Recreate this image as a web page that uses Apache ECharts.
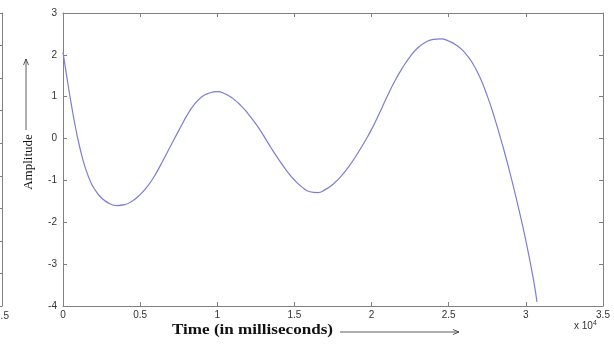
<!DOCTYPE html>
<html>
<head>
<meta charset="utf-8">
<script src="https://cdn.jsdelivr.net/npm/echarts@6/dist/echarts.min.js"></script>
<style>html,body{margin:0;padding:0;background:#fff}#c{width:614px;height:347px}</style>
</head>
<body>
<div id="c"></div>
<script>
// Time in milliseconds
const timeMs = [0, 250, 500, 750, 1000, 1250, 1500, 1750, 2000, 2500, 3000, 3500, 4000, 4500, 5000, 5500, 6000, 6500, 7000, 7500, 8000, 8500, 9000, 9500, 10000, 10500, 11000, 11500, 12000, 12500, 13000, 13500, 14000, 14500, 15000, 15500, 16000, 16500, 17000, 17500, 18000, 18500, 19000, 19500, 20000, 20500, 21000, 21500, 22000, 22500, 23000, 23500, 24000, 24500, 25000, 25500, 26000, 26500, 27000, 27500, 28000, 28500, 29000, 29500, 30000, 30500, 30720];
// Amplitude values
const amplitude = [2.06, 1.47, 0.90, 0.38, -0.07, -0.45, -0.76, -1.00, -1.18, -1.42, -1.55, -1.60, -1.58, -1.49, -1.34, -1.13, -0.85, -0.51, -0.16, 0.19, 0.53, 0.81, 1.00, 1.09, 1.12, 1.07, 0.96, 0.80, 0.59, 0.35, 0.07, -0.23, -0.51, -0.77, -0.99, -1.16, -1.27, -1.29, -1.22, -1.09, -0.91, -0.68, -0.41, -0.11, 0.22, 0.60, 1.00, 1.37, 1.69, 1.96, 2.17, 2.30, 2.37, 2.38, 2.33, 2.23, 2.07, 1.83, 1.48, 1.02, 0.46, -0.17, -0.86, -1.62, -2.44, -3.38, -3.90];
const xTicks = [0, 0.5, 1, 1.5, 2, 2.5, 3, 3.5];
const yTicks = [-4, -3, -2, -1, 0, 1, 2, 3];

const data = timeMs.map((t, i) => [t, amplitude[i]]);
const axisColor = '#808080';
const labelStyle = { color: '#333', fontSize: 10, fontFamily: 'Liberation Sans, Arial, sans-serif' };
const tick = { inside: true, length: 4, lineStyle: { color: axisColor } };
const line = { show: true, onZero: false, lineStyle: { color: axisColor } };

const chart = echarts.init(document.getElementById('c'));
chart.setOption({
  animation: false,
  grid: [
    { left: 63, top: 13, width: 540, height: 293, show: false, outerBoundsMode: 'none', containLabel: false },
    { left: -298, top: 13, width: 300, height: 293, show: false, outerBoundsMode: 'none', containLabel: false }
  ],
  xAxis: [
    { gridIndex: 0, type: 'value', min: 0, max: 35000, interval: 5000, position: 'bottom',
      axisLine: line, axisTick: tick,
      axisLabel: Object.assign({ margin: 4, formatter: v => String(xTicks[Math.round(v / 5000)]) }, labelStyle),
      splitLine: { show: false } },
    { gridIndex: 0, type: 'value', min: 0, max: 35000, interval: 5000, position: 'top',
      axisLine: line, axisTick: tick,
      axisLabel: { show: false }, splitLine: { show: false } },
    { gridIndex: 1, type: 'value', min: 0, max: 3.5, interval: 0.5, position: 'bottom',
      axisLine: { show: false, onZero: false },
      axisTick: { show: false },
      axisLabel: Object.assign({ margin: 5, hideOverlap: false, formatter: v => v === 3.5 ? '3.5' : '' }, labelStyle),
      splitLine: { show: false } }
  ],
  yAxis: [
    { gridIndex: 0, type: 'value', min: -4, max: 3, interval: 1, position: 'left',
      axisLine: line, axisTick: Object.assign({ show: true }, tick),
      axisLabel: Object.assign({ margin: 6, formatter: v => String(yTicks[Math.round(v + 4)]) }, labelStyle),
      splitLine: { show: false } },
    { gridIndex: 0, type: 'value', min: -4, max: 3, interval: 1, position: 'right',
      axisLine: line, axisTick: Object.assign({ show: true }, tick),
      axisLabel: { show: false }, splitLine: { show: false } },
    { gridIndex: 1, type: 'value', min: 0, max: 9, interval: 1, position: 'right',
      axisLine: line, axisTick: Object.assign({ show: true }, tick),
      axisLabel: { show: false }, splitLine: { show: false } }
  ],
  series: [{
    type: 'line', xAxisIndex: 0, yAxisIndex: 0, data: data, smooth: true,
    showSymbol: false, lineStyle: { color: '#7d7dd6', width: 1.2 }
  }],
  graphic: [
    { type: 'text', x: 172, y: 323, scaleX: 1.22,
      style: { text: 'Time (in milliseconds)', font: 'bold 14px "Liberation Serif", "Times New Roman", serif', fill: '#111' } },
    { type: 'line', shape: { x1: 340, y1: 332, x2: 459, y2: 332 }, style: { stroke: '#333', lineWidth: 0.8 } },
    { type: 'polyline', shape: { points: [[453, 329.5], [459, 332], [453, 334.5]] }, style: { stroke: '#333', lineWidth: 0.8, fill: null } },
    { type: 'text', x: 29, y: 162, rotation: Math.PI / 2,
      style: { text: 'Amplitude', font: '13px "Liberation Serif", "Times New Roman", serif', fill: '#111', align: 'center', verticalAlign: 'middle' } },
    { type: 'line', shape: { x1: 26, y1: 130, x2: 26, y2: 59 }, style: { stroke: '#333', lineWidth: 0.8 } },
    { type: 'polyline', shape: { points: [[23.5, 65], [26, 59], [28.5, 65]] }, style: { stroke: '#333', lineWidth: 0.8, fill: null } },
    { type: 'text', left: 574, top: 320,
      style: { rich: { a: { fontSize: 10, fontFamily: 'Liberation Sans, Arial, sans-serif', fill: '#333' }, b: { fontSize: 7, fontFamily: 'Liberation Sans, Arial, sans-serif', fill: '#333', verticalAlign: 'top', padding: [0, 0, 6, 0] } }, text: '{a|x 10}{b|4}' } }
  ]
});
</script>
</body>
</html>
